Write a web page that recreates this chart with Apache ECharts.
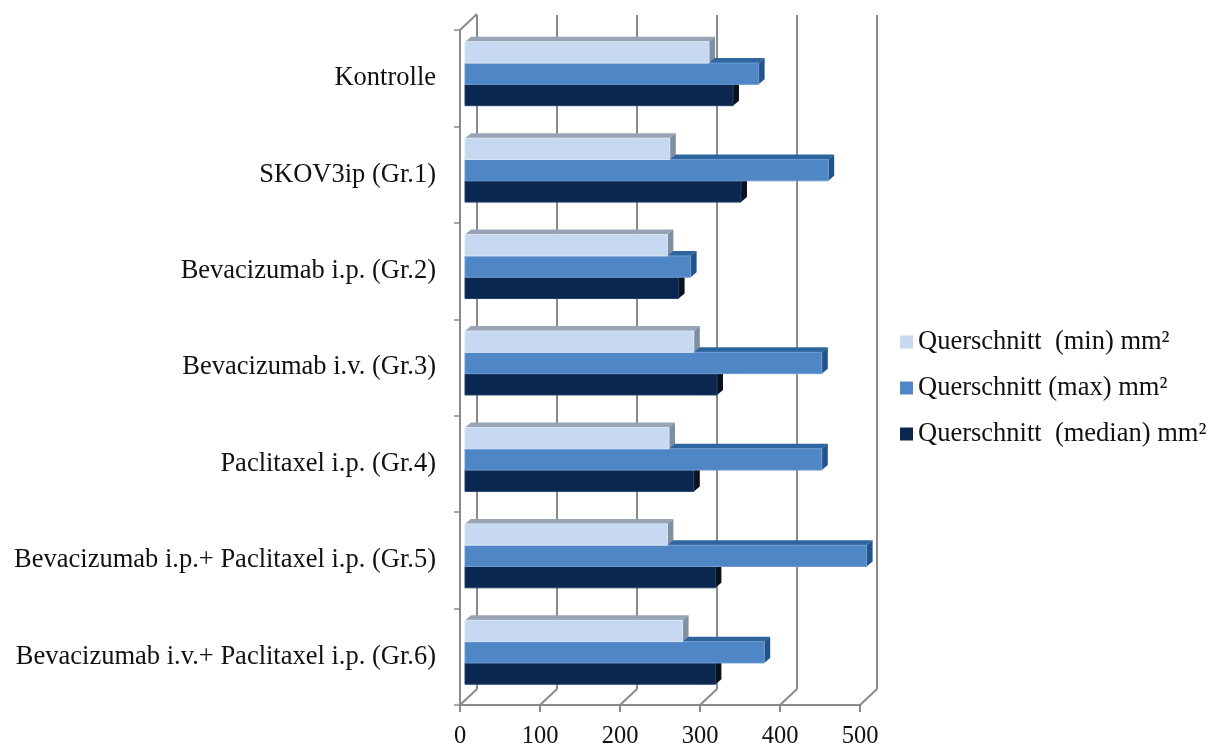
<!DOCTYPE html>
<html>
<head>
<meta charset="utf-8">
<script src="https://cdn.jsdelivr.net/npm/echarts@6/dist/echarts.min.js"></script>
<style>
  html, body { margin: 0; padding: 0; background: #fff; }
  #chart { width: 1225px; height: 747px; }
</style>
</head>
<body>
<div id="chart"></div>
<script>
// Tumour cross-section per treatment group (mm²)
const categories = [
  'Kontrolle',
  'SKOV3ip (Gr.1)',
  'Bevacizumab i.p. (Gr.2)',
  'Bevacizumab i.v. (Gr.3)',
  'Paclitaxel i.p. (Gr.4)',
  'Bevacizumab i.p.+ Paclitaxel i.p. (Gr.5)',
  'Bevacizumab i.v.+ Paclitaxel i.p. (Gr.6)'
];
const minValues = [305, 256, 253, 286, 255, 253, 272];
const maxValues = [367, 454, 282, 446, 446, 502, 374];
const medianValues = [335, 345, 267, 315, 286, 313, 313];
const xTicks = [0, 100, 200, 300, 400, 500];

// Pseudo-3D box: back wall is shifted by (BOX_DX, BOX_DY) from the front plane
const BOX_DX = 17, BOX_DY = -16;
// Bars sit slightly behind the front plane and have a small depth
const FRONT_DX = 5, FRONT_DY = -4.5;
const BAR_DX = 6, BAR_DY = -5;
const BAR_RATIO = 0.221;
const GRID_COLOR = '#8a8a8a';
const FONT = '"Liberation Serif", "Times New Roman", serif';

const palette = [
  { front: '#C6D9F1', top: '#97A4B5', side: '#7F8FA2', edge: '#D9E5F5' },
  { front: '#4F86C6', top: '#2F659F', side: '#22538A', edge: '#6E9BD1' },
  { front: '#0B274F', top: '#0A1E3C', side: '#0A121C', edge: '#21406B' }
];

function barRenderer(slot) {
  const c = palette[slot];
  return function (params, api) {
    const cat = api.value(1);
    const start = api.coord([0, cat]);
    const end = api.coord([api.value(0), cat]);
    const band = api.size([0, 1])[1];
    const h = band * BAR_RATIO;
    const top = start[1] - 1.5 * h + slot * h + FRONT_DY;
    const x0 = start[0] + FRONT_DX;
    const x1 = end[0] + FRONT_DX;
    return {
      type: 'group',
      children: [
        {
          type: 'polygon',
          shape: { points: [[x0, top], [x1, top], [x1 + BAR_DX, top + BAR_DY], [x0 + BAR_DX, top + BAR_DY]] },
          style: { fill: c.top }
        },
        {
          type: 'polygon',
          shape: { points: [[x1, top], [x1 + BAR_DX, top + BAR_DY], [x1 + BAR_DX, top + h + BAR_DY], [x1, top + h]] },
          style: { fill: c.side }
        },
        {
          type: 'rect',
          shape: { x: x0, y: top, width: x1 - x0, height: h },
          style: { fill: c.front, stroke: c.edge, lineWidth: 1 }
        }
      ]
    };
  };
}

// Floor diagonals linking front ticks to the back wall, plus the top-left edge
function floorRenderer(params, api) {
  const cs = params.coordSys;
  const x = api.coord([api.value(0), 0])[0];
  const bottom = cs.y + cs.height;
  const children = [{
    type: 'line',
    shape: { x1: x, y1: bottom, x2: x + BOX_DX, y2: bottom + BOX_DY },
    style: { stroke: GRID_COLOR, lineWidth: 2 }
  }];
  if (api.value(0) === xTicks[0]) {
    children.push({
      type: 'line',
      shape: { x1: x, y1: cs.y, x2: x + BOX_DX, y2: cs.y + BOX_DY },
      style: { stroke: GRID_COLOR, lineWidth: 2 }
    });
  }
  return { type: 'group', children };
}

const seriesNames = ['Querschnitt  (min) mm²', 'Querschnitt (max) mm²', 'Querschnitt  (median) mm²'];
const seriesValues = [minValues, maxValues, medianValues];

const barSeries = seriesValues.map((vals, k) => ({
  name: seriesNames[k],
  type: 'custom',
  xAxisIndex: 0,
  yAxisIndex: 0,
  z: 10 - k,
  itemStyle: { color: palette[k].front },
  renderItem: barRenderer(k),
  encode: { x: 0, y: 1 },
  data: vals.map((v, i) => [v, i])
}));

const chart = echarts.init(document.getElementById('chart'), null, { renderer: 'canvas' });
chart.setOption({
  animation: false,
  backgroundColor: '#ffffff',
  legend: {
    data: seriesNames,
    orient: 'vertical',
    left: 895,
    top: 323,
    itemWidth: 13,
    itemHeight: 13,
    itemGap: 18,
    icon: 'rect',
    textStyle: { fontFamily: FONT, fontSize: 26.5, color: '#111', lineHeight: 28 }
  },
  grid: [
    { left: 460, top: 30, width: 400, height: 675, outerBoundsMode: 'none', containLabel: false },
    { left: 460 + BOX_DX, top: 30 + BOX_DY + 1, width: 400, height: 674, outerBoundsMode: 'none', containLabel: false }
  ],
  xAxis: [
    {
      gridIndex: 0, type: 'value', min: 0, max: 500, interval: 100,
      axisLine: { show: true, lineStyle: { color: GRID_COLOR, width: 2 } },
      axisTick: { show: true, length: 7, lineStyle: { color: GRID_COLOR, width: 2 } },
      axisLabel: { margin: 19, fontFamily: FONT, fontSize: 24.5, color: '#111' },
      splitLine: { show: false }
    },
    {
      gridIndex: 1, type: 'value', min: 0, max: 500, interval: 100,
      axisLine: { show: false }, axisTick: { show: false }, axisLabel: { show: false },
      splitLine: { show: true, lineStyle: { color: GRID_COLOR, width: 2 } }
    }
  ],
  yAxis: [
    {
      gridIndex: 0, type: 'category', data: categories, inverse: true,
      axisLine: { show: true, lineStyle: { color: GRID_COLOR, width: 2 } },
      axisTick: { show: true, length: 6, lineStyle: { color: GRID_COLOR, width: 1.5 } },
      axisLabel: { margin: 24, fontFamily: FONT, fontSize: 26.5, color: '#111' },
      splitLine: { show: false }
    },
    {
      gridIndex: 1, type: 'category', data: categories, inverse: true, show: false
    }
  ],
  series: [
    {
      name: 'floor',
      type: 'custom',
      xAxisIndex: 0,
      yAxisIndex: 0,
      z: 1,
      silent: true,
      renderItem: floorRenderer,
      encode: { x: 0, y: 1 },
      data: xTicks.map(v => [v, 0])
    }
  ].concat(barSeries)
});
</script>
</body>
</html>
